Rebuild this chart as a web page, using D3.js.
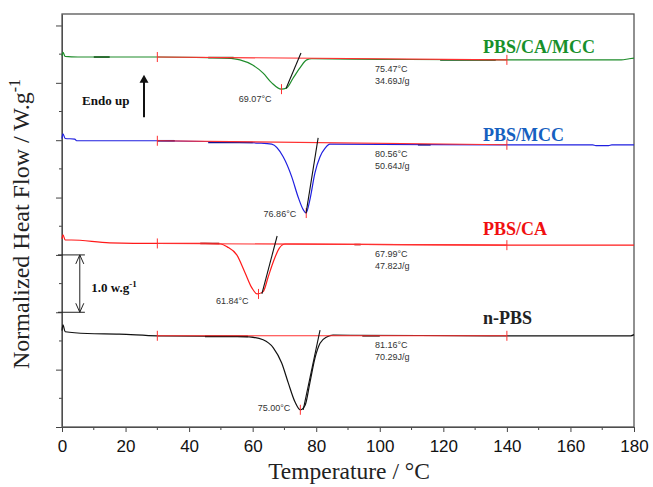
<!DOCTYPE html>
<html>
<head>
<meta charset="utf-8">
<script src="https://cdn.jsdelivr.net/npm/d3@7"></script>
<style>
  body { margin: 0; background: #fff; }
  svg { display: block; }
</style>
</head>
<body>
<svg id="chart" width="653" height="487"></svg>
<script>
// DSC melting curves (temperature in °C, heat flow in W/g, stacked)

var seriesNames = ["PBS/CA/MCC", "PBS/MCC", "PBS/CA", "n-PBS"];
var seriesColors = ["#1e8c2a", "#1f1fe0", "#ff1a1a", "#111111"];
var labelColors = ["#17902a", "#1560c0", "#f01010", "#222222"];

var greenCurve = [[0, 6.47], [0.3, 6.53], [1, 6.46], [5, 6.45], [30, 6.45], [46, 6.44], [52, 6.43],
  [56, 6.40], [60, 6.31], [63.3, 6.17], [66, 6.00], [69, 5.89], [70.7, 5.91], [72.7, 6.08],
  [75, 6.27], [77, 6.40], [78.6, 6.42], [100, 6.41], [140, 6.40], [176, 6.40], [178.5, 6.42], [180, 6.43]];

var blueCurve = [[0, 5.03], [0.3, 5.11], [1, 5.03], [4, 5.02], [4.6, 4.99], [30, 4.99], [50, 4.97],
  [62, 4.95], [66, 4.93], [69.6, 4.71], [72.3, 4.36], [74.3, 4.01], [76, 3.78], [76.8, 3.73],
  [78, 3.96], [79.6, 4.43], [81.2, 4.71], [82.8, 4.86], [84.3, 4.93], [140, 4.92], [167, 4.92],
  [168, 4.905], [172, 4.905], [173, 4.92], [180, 4.92]];

var redCurve = [[0, 3.28], [0.3, 3.35], [1, 3.26], [3, 3.26], [15, 3.21], [30, 3.20], [45, 3.20],
  [50, 3.19], [52, 3.14], [55, 3.00], [57.6, 2.69], [59.8, 2.42], [61.4, 2.32], [63.3, 2.36],
  [64.9, 2.62], [66.5, 2.88], [68.4, 3.12], [70.2, 3.19], [72, 3.19], [140, 3.17], [180, 3.17]];

var blackCurve = [[0, 1.68], [0.3, 1.78], [1, 1.66], [8, 1.63], [18, 1.62], [30, 1.59], [55, 1.58],
  [59, 1.57], [63.3, 1.52], [66.5, 1.38], [69.1, 1.12], [71.2, 0.77], [73.3, 0.44], [75, 0.30],
  [76.5, 0.38], [78, 0.77], [79.6, 1.20], [81.2, 1.46], [83.3, 1.57], [85.3, 1.60], [140, 1.59],
  [179, 1.59], [180, 1.61]];

var curves = [greenCurve, blueCurve, redCurve, blackCurve];

// integration baseline (red) start/end
var baseStart = [[30, 6.45], [30, 4.99], [30, 3.20], [30, 1.59]];
var baseEnd = [[140, 6.40], [140, 4.92], [140, 3.17], [140, 1.59]];

// tangent lines on the trailing edge of each peak
var tangentLines = [
  [[70.5, 5.90], [75.2, 6.52]],
  [[76.8, 3.73], [80.6, 5.04]],
  [[62.9, 2.32], [67.7, 3.33]],
  [[75.9, 0.30], [81.2, 1.69]]
];

// darker overlap segments along the baseline
var darkSegments = [
  [0, 10, 15, 6.45], [0, 46, 54, 6.44], [0, 119, 136.5, 6.40],
  [1, 30, 35.5, 4.99], [1, 46, 60, 4.96], [1, 112, 116, 4.92],
  [2, 43.5, 49.5, 3.20], [2, 92, 94, 3.18],
  [3, 45, 58.5, 1.58], [3, 94.5, 100, 1.59]
];

var peakTemps = [69.07, 76.86, 61.84, 75.00];
var peakValues = [5.89, 3.73, 2.32, 0.30];
var onsetLabels = ["75.47°C", "80.56°C", "67.99°C", "81.16°C"];
var enthalpyLabels = ["34.69J/g", "50.64J/g", "47.82J/g", "70.29J/g"];

var xTicks = [0, 20, 40, 60, 80, 100, 120, 140, 160, 180];
var xMinorTicks = [10, 30, 50, 70, 90, 110, 130, 150, 170];
var yTicks = [0, 1, 2, 3, 4, 5, 6, 7];
var yMinorTicks = [0.5, 1.5, 2.5, 3.5, 4.5, 5.5, 6.5];

var svg = d3.select("#chart");
var margin = { left: 62, right: 19, top: 14, bottom: 60 };
var width = 653 - margin.left - margin.right;
var height = 487 - margin.top - margin.bottom;

var x = d3.scaleLinear().domain([0, 180]).range([0, width]);
var y = d3.scaleLinear().domain([0, 7.2]).range([height, 0]);

var g = svg.append("g").attr("transform", "translate(" + margin.left + "," + margin.top + ")");

// axes
var xAxis = g.append("g").attr("transform", "translate(0," + height + ")")
  .call(d3.axisBottom(x).tickValues(xTicks).tickSize(5).tickSizeOuter(0).tickFormat(d3.format("d")));
xAxis.append("g").selectAll("line").data(xMinorTicks).enter().append("line")
  .attr("x1", function(d) { return x(d); }).attr("x2", function(d) { return x(d); })
  .attr("y1", 0).attr("y2", 3).attr("stroke", "#444");
xAxis.selectAll("text").attr("font-family", "Arial, 'Liberation Sans', sans-serif")
  .attr("font-size", "17px").attr("fill", "#111").attr("dy", "1.0em");

var yAxis = g.append("g")
  .call(d3.axisLeft(y).tickValues(yTicks).tickSize(6).tickSizeOuter(0).tickFormat(""));
yAxis.append("g").selectAll("line").data(yMinorTicks).enter().append("line")
  .attr("y1", function(d) { return y(d); }).attr("y2", function(d) { return y(d); })
  .attr("x1", 0).attr("x2", -3).attr("stroke", "#444");

svg.selectAll(".domain").attr("stroke", "#444");
svg.selectAll(".tick line").attr("stroke", "#444");

// frame
g.append("rect").attr("x", 0).attr("y", 0).attr("width", width).attr("height", height)
  .attr("fill", "none").attr("stroke", "#555").attr("stroke-width", 1.3);

var line = d3.line()
  .x(function(d) { return x(d[0]); })
  .y(function(d) { return y(d[1]); })
  .curve(d3.curveMonotoneX);

// curves
curves.forEach(function(c, i) {
  g.append("path").datum(c).attr("d", line)
    .attr("fill", "none").attr("stroke", seriesColors[i]).attr("stroke-width", 1.2);
});

// dark segments
darkSegments.forEach(function(s) {
  g.append("line")
    .attr("x1", x(s[1])).attr("x2", x(s[2]))
    .attr("y1", y(s[3])).attr("y2", y(s[3]))
    .attr("stroke", d3.color(seriesColors[s[0]]).darker(1.2)).attr("stroke-width", 1.6);
});

// red integration baselines and end markers
seriesNames.forEach(function(n, i) {
  g.append("line")
    .attr("x1", x(baseStart[i][0])).attr("y1", y(baseStart[i][1]))
    .attr("x2", x(baseEnd[i][0])).attr("y2", y(baseEnd[i][1]))
    .attr("stroke", "#ff3030").attr("stroke-width", 1.1);
  [baseStart[i], baseEnd[i]].forEach(function(p) {
    g.append("line").attr("x1", x(p[0])).attr("x2", x(p[0]))
      .attr("y1", y(p[1]) - 5).attr("y2", y(p[1]) + 5)
      .attr("stroke", "#ff3030").attr("stroke-width", 1);
  });
  // peak marker
  g.append("line").attr("x1", x(peakTemps[i])).attr("x2", x(peakTemps[i]))
    .attr("y1", y(peakValues[i]) - 5).attr("y2", y(peakValues[i]) + 5)
    .attr("stroke", "#ff3030").attr("stroke-width", 1);
  // tangent
  g.append("path").datum(tangentLines[i]).attr("d", d3.line()
      .x(function(d) { return x(d[0]); }).y(function(d) { return y(d[1]); }))
    .attr("stroke", "#111").attr("stroke-width", 1.1).attr("fill", "none");
});

// small annotations
var annoFont = "Arial, 'Liberation Sans', sans-serif";
var peakDy = [13, 4, 10, 1];
seriesNames.forEach(function(n, i) {
  g.append("text").attr("x", x(peakTemps[i]) - 10).attr("y", y(peakValues[i]) + peakDy[i])
    .attr("text-anchor", "end").attr("font-family", annoFont).attr("font-size", "9px")
    .attr("fill", "#333").text(peakTemps[i].toFixed(2) + "°C");
  var by = y(baseEnd[i][1]);
  g.append("text").attr("x", x(98.5)).attr("y", by + 12)
    .attr("font-family", annoFont).attr("font-size", "9px").attr("fill", "#333").text(onsetLabels[i]);
  g.append("text").attr("x", x(98.5)).attr("y", by + 24)
    .attr("font-family", annoFont).attr("font-size", "9px").attr("fill", "#333").text(enthalpyLabels[i]);
});

// series labels
var labelDy = [-7, -4, -10, -12];
seriesNames.forEach(function(n, i) {
  g.append("text").attr("x", x(132.5)).attr("y", y(baseEnd[i][1]) + labelDy[i])
    .attr("font-family", "'Liberation Serif', 'Times New Roman', serif").attr("font-weight", "bold")
    .attr("font-size", "18px").attr("fill", labelColors[i]).text(n);
});

// Endo up arrow
var serif = "'Liberation Serif', 'Times New Roman', serif";
g.append("text").attr("x", x(6.3)).attr("y", y(5.62)).attr("font-family", serif)
  .attr("font-weight", "bold").attr("font-size", "13px").attr("fill", "#111").text("Endo up");
g.append("line").attr("x1", x(25.8)).attr("x2", x(25.8)).attr("y1", y(5.40)).attr("y2", y(6.05))
  .attr("stroke", "#111").attr("stroke-width", 2);
g.append("path")
  .attr("d", "M" + (x(25.8) - 4.5) + "," + (y(6.0)) + "L" + x(25.8) + "," + (y(6.14)) + "L" + (x(25.8) + 4.5) + "," + y(6.0) + "Z")
  .attr("fill", "#111");

// 1.0 W/g scale bar
var sb = x(5.6);
[2, 3].forEach(function(v) {
  g.append("line").attr("x1", -4).attr("x2", x(7.2)).attr("y1", y(v)).attr("y2", y(v))
    .attr("stroke", "#222").attr("stroke-width", 1);
});
g.append("line").attr("x1", sb).attr("x2", sb).attr("y1", y(3)).attr("y2", y(2))
  .attr("stroke", "#222").attr("stroke-width", 1);
g.append("path").attr("d", "M" + (sb - 4) + "," + (y(3) + 9) + "L" + sb + "," + y(3) + "L" + (sb + 4) + "," + (y(3) + 9))
  .attr("fill", "none").attr("stroke", "#222");
g.append("path").attr("d", "M" + (sb - 4) + "," + (y(2) - 9) + "L" + sb + "," + y(2) + "L" + (sb + 4) + "," + (y(2) - 9))
  .attr("fill", "none").attr("stroke", "#222");
var sbt = g.append("text").attr("x", x(9.2)).attr("y", y(2.35)).attr("font-family", serif)
  .attr("font-weight", "bold").attr("font-size", "13px").attr("fill", "#111");
sbt.append("tspan").text("1.0 w.g");
sbt.append("tspan").attr("dy", "-5").attr("font-size", "9px").text("-1");

// axis titles
svg.append("text").attr("x", margin.left + width / 2 + 1).attr("y", 479)
  .attr("text-anchor", "middle").attr("font-family", serif).attr("font-size", "23.5px")
  .attr("fill", "#222").text("Temperature / °C");
var yt = svg.append("text").attr("transform", "translate(29,224) rotate(-90)")
  .attr("text-anchor", "middle").attr("font-family", serif).attr("font-size", "24px").attr("fill", "#222");
yt.append("tspan").text("Normalized Heat Flow / W.g");
yt.append("tspan").attr("dy", "-9").attr("font-size", "16px").text("-1");
</script>
</body>
</html>
